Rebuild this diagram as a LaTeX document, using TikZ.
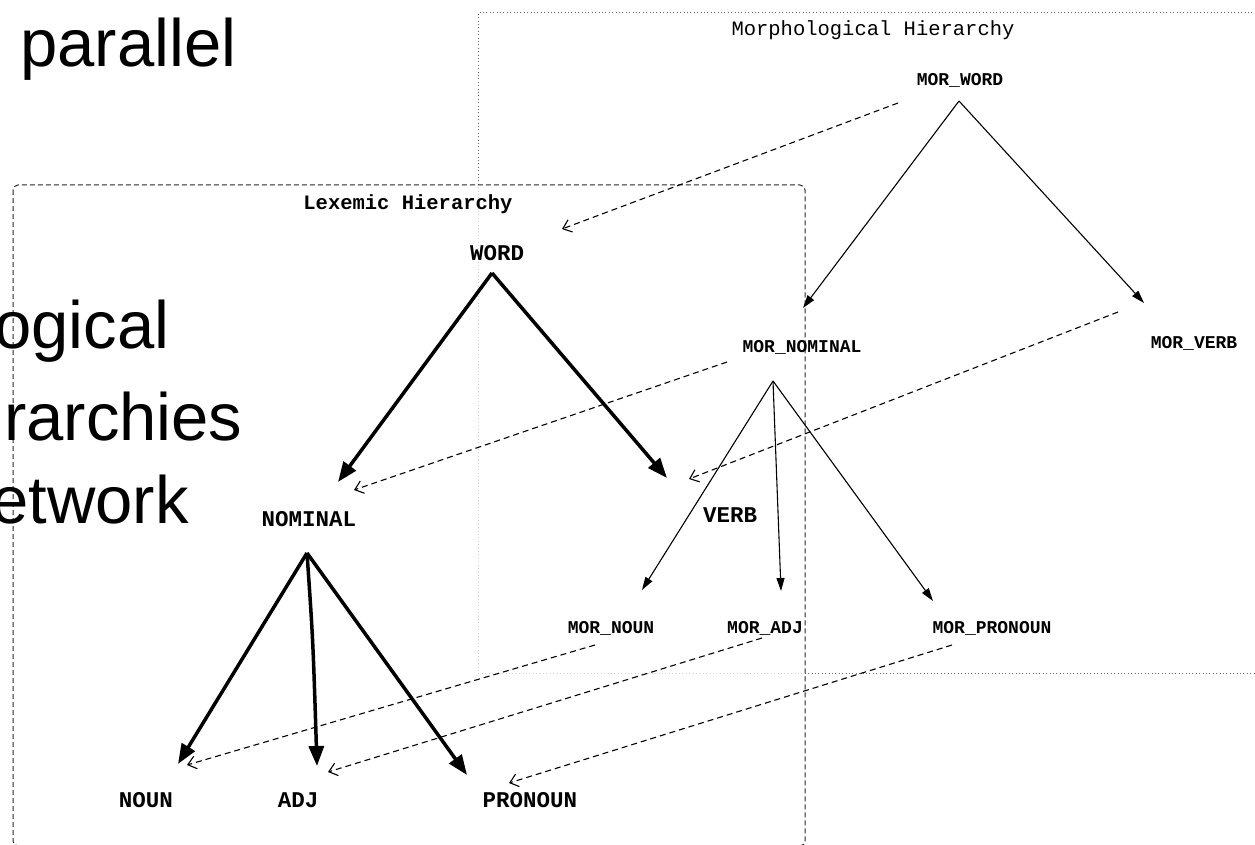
\documentclass[tikz,border=0pt]{standalone}
\usepackage{fontspec}
\setmainfont{Liberation Sans}
\newfontfamily\lmono{Liberation Mono}
\usetikzlibrary{arrows.meta}
\begin{document}
\begin{tikzpicture}[x=1pt,y=-1pt,
  morlab/.style={font=\lmono\bfseries\fontsize{18}{18}\selectfont, inner sep=0pt, anchor=base},
  lexlab/.style={font=\lmono\bfseries\fontsize{22.5}{22.5}\selectfont, inner sep=0pt, anchor=base},
  boxtitle/.style={font=\lmono\fontsize{20.5}{20.5}\selectfont, inner sep=0pt, anchor=base},
  bigtext/.style={font=\fontsize{67}{67}\selectfont, inner sep=0pt, anchor=base west},
  morbox/.style={draw=black!60, dash pattern=on 1pt off 2.4pt, line width=1pt},
  lexbox/.style={draw=black!85, dash pattern=on 5pt off 3pt, line width=1pt, rounded corners=5pt, fill=white, fill opacity=0.7},
  morarrow/.style={line width=1.1pt, -{Triangle[length=13pt,width=8pt]}},
  lexarrow/.style={line width=3.5pt, -{Triangle[length=20pt,width=15pt]}},
  maparrow/.style={line width=1.1pt, dash pattern=on 6pt off 4pt, -{Straight Barb[length=8pt,width=13pt]}}
]
\useasboundingbox (0,0) rectangle (1255,845);
\clip (0,0) rectangle (1255,845);
\fill[white] (0,0) rectangle (1255,845);

% frames
\draw[morbox] (1300,13) -- (478,13) -- (478,673) -- (1300,673);
\draw[lexbox] (13,185) rectangle (805,846);

% big slide text
\node[bigtext] (t1) at (20,67) {parallel};
\node[bigtext] (t2) at (-6,348) {ogical};
\node[bigtext] (t3) at (4,440) {rarchies};
\node[bigtext] (t4) at (-9,523) {etwork};

% titles
\node[boxtitle] (mtitle) at (873,36) {Morphological Hierarchy};
\node[boxtitle, font=\lmono\bfseries\fontsize{20.5}{20.5}\selectfont] (ltitle) at (408,209) {Lexemic Hierarchy};

% morphological labels
\node[morlab] (mword) at (960,86) {MOR\_WORD};
\node[morlab] (mnom) at (802,352) {MOR\_NOMINAL};
\node[morlab] (mverb) at (1194,348) {MOR\_VERB};
\node[morlab] (mnoun) at (611,633) {MOR\_NOUN};
\node[morlab] (madj) at (765,633) {MOR\_ADJ};
\node[morlab] (mpro) at (992,633) {MOR\_PRONOUN};

% lexemic labels
\node[lexlab] (word) at (497,260) {WORD};
\node[lexlab] (nom) at (309,526) {NOMINAL};
\node[lexlab] (verb) at (730,522) {VERB};
\node[lexlab] (noun) at (146,807) {NOUN};
\node[lexlab] (adj) at (298,807) {ADJ};
\node[lexlab] (pro) at (530,807) {PRONOUN};

% ports
\coordinate (mword-o) at (959,101);
\coordinate (mnom-i) at (803,308);
\coordinate (mverb-i) at (1144,303);
\coordinate (mnom-o) at (773,381);
\coordinate (mnoun-i) at (642,590);
\coordinate (madj-i) at (781,591);
\coordinate (mpro-i) at (933,601);

\coordinate (word-o) at (492,273);
\coordinate (nom-i) at (338,482);
\coordinate (verb-i) at (667,478);
\coordinate (nom-o) at (307,553);
\coordinate (noun-i) at (178,764);
\coordinate (adj-i) at (317,766);
\coordinate (pro-i) at (467,775);

\coordinate (mword-m) at (898,103);
\coordinate (word-m) at (562,229);
\coordinate (mnom-m) at (727,362);
\coordinate (nom-m) at (354,490);
\coordinate (mverb-m) at (1118,312);
\coordinate (verb-m) at (689,479);
\coordinate (mnoun-m) at (595,645);
\coordinate (noun-m) at (187,765);
\coordinate (madj-m) at (762,638);
\coordinate (adj-m) at (328,772);
\coordinate (mpro-m) at (952,645);
\coordinate (pro-m) at (509,783);

% morphological tree
\draw[morarrow] (mword-o) -- (mnom-i);
\draw[morarrow] (mword-o) -- (mverb-i);
\draw[morarrow] (mnom-o) -- (mnoun-i);
\draw[morarrow] (mnom-o) .. controls (777,480) .. (madj-i);
\draw[morarrow] (mnom-o) -- (mpro-i);

% lexemic tree
\draw[lexarrow] (word-o) -- (nom-i);
\draw[lexarrow] (word-o) -- (verb-i);
\draw[lexarrow] (nom-o) -- (noun-i);
\draw[lexarrow] (nom-o) .. controls (313,640) .. (adj-i);
\draw[lexarrow] (nom-o) -- (pro-i);

% mappings
\draw[maparrow] (mword-m) -- (word-m);
\draw[maparrow] (mnom-m) -- (nom-m);
\draw[maparrow] (mverb-m) -- (verb-m);
\draw[maparrow] (mnoun-m) -- (noun-m);
\draw[maparrow] (madj-m) -- (adj-m);
\draw[maparrow] (mpro-m) -- (pro-m);
\end{tikzpicture}
\end{document}
